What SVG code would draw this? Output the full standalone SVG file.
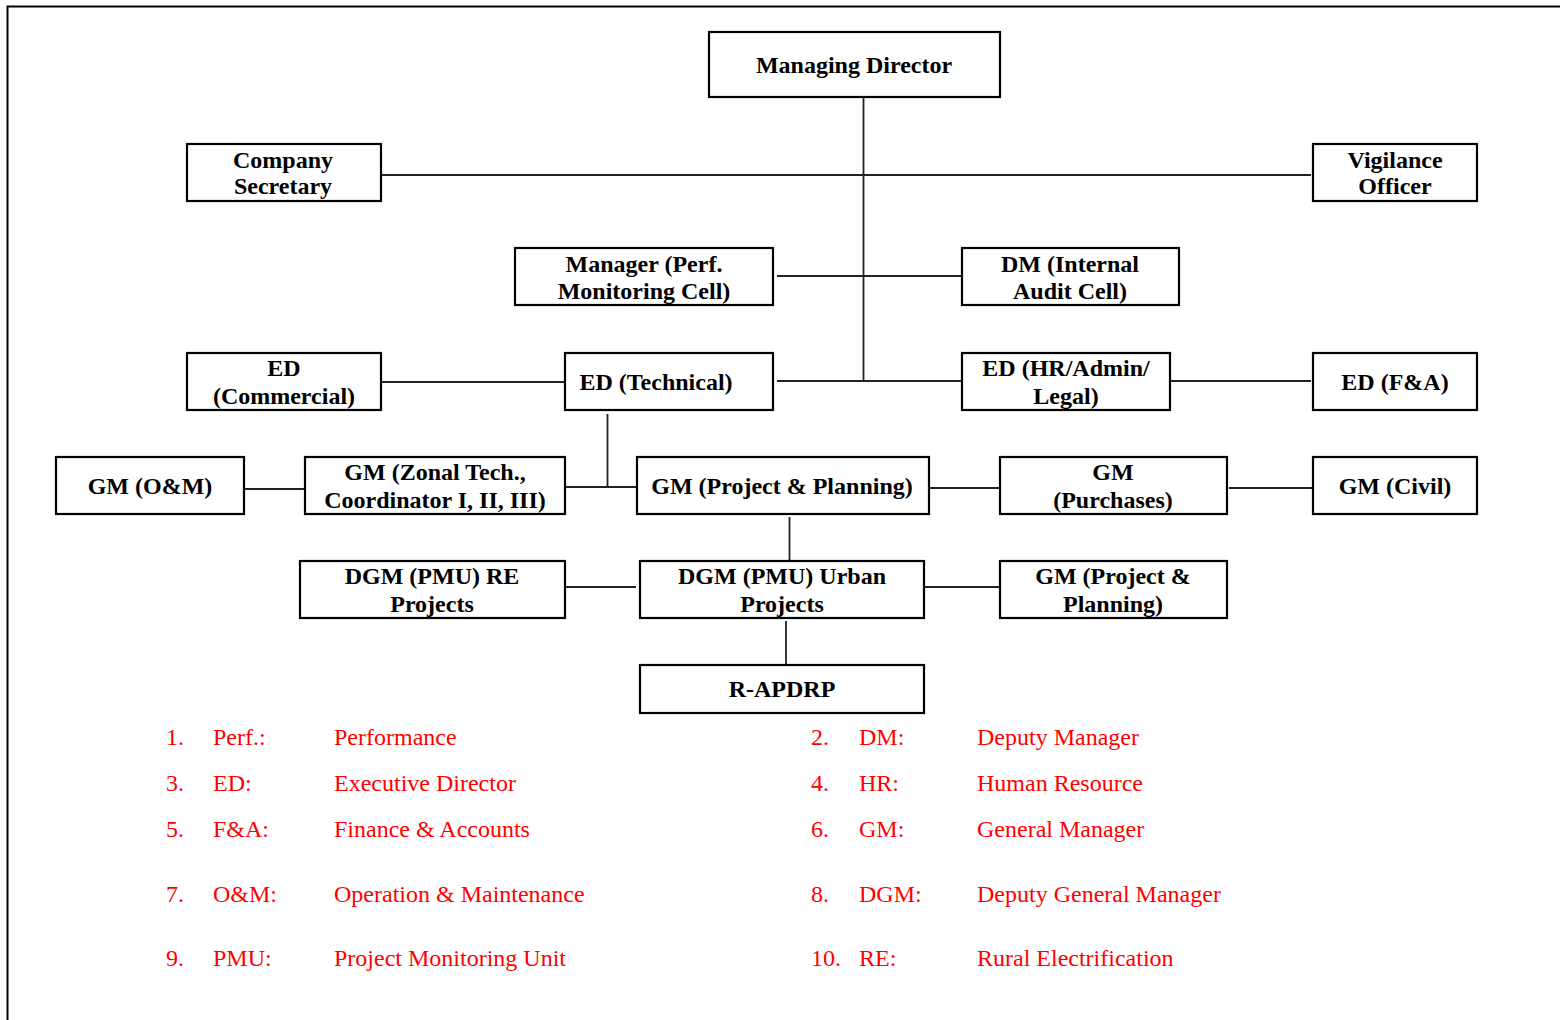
<svg xmlns="http://www.w3.org/2000/svg" width="1560" height="1020" viewBox="0 0 1560 1020">
<style>
.box{fill:#fff;stroke:#000;stroke-width:2.2}
.nt{font-family:"Liberation Serif","Times New Roman",serif;font-weight:bold;font-size:24px;fill:#000;text-anchor:middle}
.con{stroke:#222;stroke-width:1.8;fill:none}
.lg{font-family:"Liberation Serif","Times New Roman",serif;font-size:24px;fill:#ff0000}
.frame{stroke:#000;stroke-width:2;fill:none}
</style>
<rect width="1560" height="1020" fill="#fff"/>
<path class="frame" d="M7.5 1020 V6.5 H1560"/>
<g id="connectors">
<path class="con" d="M863.5 97 V381"/>
<path class="con" d="M381 175 H1311"/>
<path class="con" d="M777 276 H962"/>
<path class="con" d="M777 381 H962"/>
<path class="con" d="M381 382 H565"/>
<path class="con" d="M1170 381 H1311"/>
<path class="con" d="M607.5 414 V487"/>
<path class="con" d="M565 487 H637"/>
<path class="con" d="M241 489 H305"/>
<path class="con" d="M929 488 H1000"/>
<path class="con" d="M1229 488 H1313"/>
<path class="con" d="M789.5 517 V561"/>
<path class="con" d="M565 587 H636"/>
<path class="con" d="M924 587 H1000"/>
<path class="con" d="M786 621 V665"/>
</g>
<g id="md"><rect class="box" x="709" y="32" width="291" height="65"/><text class="nt" x="854" y="73">Managing Director</text></g>
<g id="cs"><rect class="box" x="187" y="144" width="194" height="57"/><text class="nt" x="283" y="168">Company</text><text class="nt" x="283" y="194">Secretary</text></g>
<g id="vo"><rect class="box" x="1313" y="144" width="164" height="57"/><text class="nt" x="1395" y="168">Vigilance</text><text class="nt" x="1395" y="194">Officer</text></g>
<g id="mpmc"><rect class="box" x="515" y="248" width="258" height="57"/><text class="nt" x="644" y="272">Manager (Perf.</text><text class="nt" x="644" y="299">Monitoring Cell)</text></g>
<g id="dmia"><rect class="box" x="962" y="248" width="217" height="57"/><text class="nt" x="1070" y="272">DM (Internal</text><text class="nt" x="1070" y="299">Audit Cell)</text></g>
<g id="edc"><rect class="box" x="187" y="353" width="194" height="57"/><text class="nt" x="284" y="376">ED</text><text class="nt" x="284" y="404">(Commercial)</text></g>
<g id="edt"><rect class="box" x="565" y="353" width="208" height="57"/><text class="nt" x="656" y="390">ED (Technical)</text></g>
<g id="edhr"><rect class="box" x="962" y="353" width="208" height="57"/><text class="nt" x="1066" y="376">ED (HR/Admin/</text><text class="nt" x="1066" y="404">Legal)</text></g>
<g id="edfa"><rect class="box" x="1313" y="353" width="164" height="57"/><text class="nt" x="1395" y="390">ED (F&amp;A)</text></g>
<g id="gmom"><rect class="box" x="56" y="457" width="188" height="57"/><text class="nt" x="150" y="494">GM (O&amp;M)</text></g>
<g id="gmzt"><rect class="box" x="305" y="457" width="260" height="57"/><text class="nt" x="435" y="480">GM (Zonal Tech.,</text><text class="nt" x="435" y="508">Coordinator I, II, III)</text></g>
<g id="gmpp"><rect class="box" x="637" y="457" width="292" height="57"/><text class="nt" x="782" y="494">GM (Project &amp; Planning)</text></g>
<g id="gmpu"><rect class="box" x="1000" y="457" width="227" height="57"/><text class="nt" x="1113" y="480">GM</text><text class="nt" x="1113" y="508">(Purchases)</text></g>
<g id="gmcv"><rect class="box" x="1313" y="457" width="164" height="57"/><text class="nt" x="1395" y="494">GM (Civil)</text></g>
<g id="dgmre"><rect class="box" x="300" y="561" width="265" height="57"/><text class="nt" x="432" y="584">DGM (PMU) RE</text><text class="nt" x="432" y="612">Projects</text></g>
<g id="dgmur"><rect class="box" x="640" y="561" width="284" height="57"/><text class="nt" x="782" y="584">DGM (PMU) Urban</text><text class="nt" x="782" y="612">Projects</text></g>
<g id="gmpp2"><rect class="box" x="1000" y="561" width="227" height="57"/><text class="nt" x="1113" y="584">GM (Project &amp;</text><text class="nt" x="1113" y="612">Planning)</text></g>
<g id="rapdrp"><rect class="box" x="640" y="665" width="284" height="48"/><text class="nt" x="782" y="697">R-APDRP</text></g>
<g id="legend">
<text class="lg" x="166" y="745">1.</text><text class="lg" x="213" y="745">Perf.:</text><text class="lg" x="334" y="745">Performance</text>
<text class="lg" x="166" y="791">3.</text><text class="lg" x="213" y="791">ED:</text><text class="lg" x="334" y="791">Executive Director</text>
<text class="lg" x="166" y="837">5.</text><text class="lg" x="213" y="837">F&amp;A:</text><text class="lg" x="334" y="837">Finance &amp; Accounts</text>
<text class="lg" x="166" y="902">7.</text><text class="lg" x="213" y="902">O&amp;M:</text><text class="lg" x="334" y="902">Operation &amp; Maintenance</text>
<text class="lg" x="166" y="966">9.</text><text class="lg" x="213" y="966">PMU:</text><text class="lg" x="334" y="966">Project Monitoring Unit</text>
<text class="lg" x="811" y="745">2.</text><text class="lg" x="859" y="745">DM:</text><text class="lg" x="977" y="745">Deputy Manager</text>
<text class="lg" x="811" y="791">4.</text><text class="lg" x="859" y="791">HR:</text><text class="lg" x="977" y="791">Human Resource</text>
<text class="lg" x="811" y="837">6.</text><text class="lg" x="859" y="837">GM:</text><text class="lg" x="977" y="837">General Manager</text>
<text class="lg" x="811" y="902">8.</text><text class="lg" x="859" y="902">DGM:</text><text class="lg" x="977" y="902">Deputy General Manager</text>
<text class="lg" x="811" y="966">10.</text><text class="lg" x="859" y="966">RE:</text><text class="lg" x="977" y="966">Rural Electrification</text>
</g>
</svg>
